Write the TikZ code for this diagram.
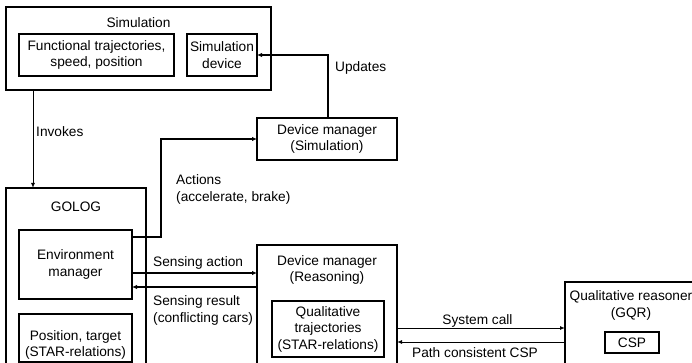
\documentclass[tikz,border=0pt]{standalone}
\usepackage{fontspec}
\setmainfont{Liberation Sans}
\usetikzlibrary{arrows.meta}
\begin{document}
\begin{tikzpicture}[x=1pt,y=-1pt,
  font=\fontsize{13.7}{16.5}\selectfont,
  box/.style={draw,line width=1.2pt,anchor=north west,inner sep=0pt,outer sep=0pt,align=center},
  txt/.style={inner sep=0pt,align=center},
  thinarr/.style={line width=1pt,-{Latex[length=5pt,width=4pt]}},
  thickarr/.style={line width=2pt,-{Latex[length=5pt,width=4.5pt]}}]
\useasboundingbox (0,0) rectangle (692,363);
\clip (0,0) rectangle (692,363);
% Simulation
\node[box,minimum width=265pt,minimum height=83pt] (sim) at (6,7) {};
\node[txt] (simtitle) at (138.5,23) {Simulation};
\node[box,minimum width=155pt,minimum height=42pt] (func) at (19,34) {Functional trajectories,\\speed, position};
\node[box,minimum width=70pt,minimum height=42pt] (simdev) at (187,34) {Simulation\\device};
% GOLOG
\node[box,minimum width=140pt,minimum height=250pt] (golog) at (6,188) {};
\node[txt] (gologtitle) at (76,207) {GOLOG};
\node[box,minimum width=113pt,minimum height=69pt] (env) at (19,230) {Environment\\manager};
\node[box,minimum width=113pt,minimum height=48pt] (pos) at (19,314) {};
\node[txt] (postext) at (75.5,345) {Position, target\\(STAR-relations)};
% Device managers
\node[box,minimum width=140pt,minimum height=42pt] (dmsim) at (257,118) {Device manager\\(Simulation)};
\node[box,minimum width=140pt,minimum height=200pt] (dmreas) at (257,245) {};
\node[txt] (dmreastitle) at (327,270) {Device manager\\(Reasoning)};
\node[box,minimum width=112pt,minimum height=56pt] (qt) at (272,301) {Qualitative\\trajectories\\(STAR-relations)};
% Qualitative reasoner
\node[box,minimum width=133pt,minimum height=200pt] (qr) at (565,282) {};
\node[txt] (qrtitle) at (631,305.5) {Qualitative reasoner\\(GQR)};
\node[box,minimum width=54pt,minimum height=21pt] (csp) at (605,332) {CSP};
% connectors
\draw[thinarr] ([xshift=27pt]sim.south west) -- ([xshift=27pt]golog.north west);
\node[txt,anchor=west] (invokes) at (36,132) {Invokes};
\coordinate (act) at ([yshift=-7pt]env.north east);
\draw[thickarr] (act) -- ++(29,0) |- (dmsim.west);
\node[txt,anchor=west,align=left] (actions) at (176,189.5) {Actions\\(accelerate, brake)};
\draw[thickarr] ([xshift=1pt]dmsim.north) |- (simdev.east);
\node[txt,anchor=west] (updates) at (335,68) {Updates};
\coordinate (sa) at ([yshift=-8.5pt]env.east);
\coordinate (sr) at ([yshift=-22.5pt]env.east);
\draw[thickarr] (sa) -- (sa -| dmreas.west);
\draw[thickarr] (sr -| dmreas.west) -- (sr);
\node[txt,anchor=west] (salabel) at (153,263) {Sensing action};
\node[txt,anchor=west,align=left] (srlabel) at (153,310.5) {Sensing result\\(conflicting cars)};
\coordinate (sc) at ([yshift=-83pt]dmreas.north east);
\coordinate (pc) at ([yshift=-97pt]dmreas.north east);
\draw[thinarr] (sc) -- (sc -| qr.west);
\draw[thinarr] (pc -| qr.west) -- (pc);
\node[txt] (sclabel) at (477.5,321) {System call};
\node[txt] (pclabel) at (475,353) {Path consistent CSP};
\end{tikzpicture}
\end{document}
